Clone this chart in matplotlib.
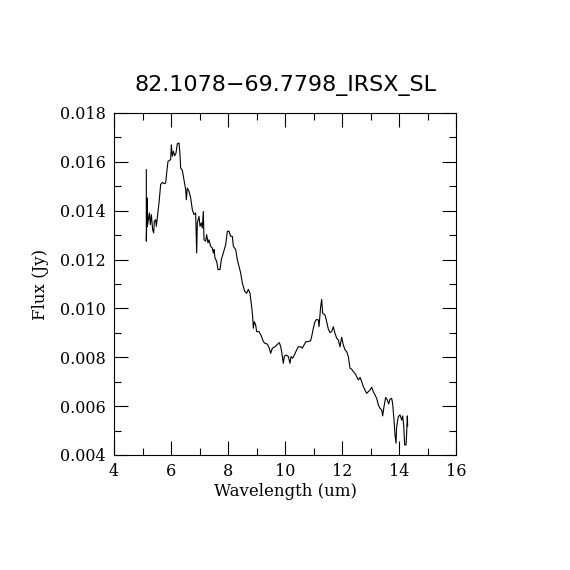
import matplotlib
matplotlib.use('Agg')
import matplotlib.pyplot as plt
from matplotlib.ticker import MultipleLocator

# IRS SL spectrum
wavelength = [5.134, 5.134, 5.170, 5.170, 5.205, 5.240, 5.275, 5.310, 5.356, 5.392,
              5.415, 5.462, 5.485, 5.532, 5.579, 5.637, 5.696, 5.754, 5.813, 5.848,
              5.895, 5.988, 6.012, 6.047, 6.082, 6.128, 6.175, 6.222, 6.281, 6.316,
              6.339, 6.398, 6.456, 6.515, 6.538, 6.573, 6.632, 6.690, 6.749, 6.807,
              6.865, 6.901, 6.924, 6.982, 7.018, 7.064, 7.099, 7.134, 7.158, 7.216,
              7.251, 7.298, 7.333, 7.392, 7.450, 7.485, 7.509, 7.544, 7.602, 7.649,
              7.719, 7.766, 7.836, 7.918, 7.977, 8.035, 8.094, 8.152, 8.187, 8.269,
              8.327, 8.386, 8.444, 8.503, 8.585, 8.655, 8.713, 8.772, 8.830, 8.865,
              8.889, 8.924, 8.971, 9.006, 9.088, 9.181, 9.240, 9.298, 9.380, 9.450,
              9.497, 9.556, 9.649, 9.708, 9.801, 9.848, 9.883, 9.941, 9.977, 10.058,
              10.117, 10.175, 10.211, 10.269, 10.327, 10.409, 10.468, 10.550, 10.608, 10.667,
              10.737, 10.819, 10.901, 10.947, 10.994, 11.053, 11.111, 11.170, 11.193, 11.251,
              11.287, 11.322, 11.404, 11.462, 11.520, 11.579, 11.637, 11.696, 11.754, 11.813,
              11.871, 11.930, 11.988, 12.047, 12.105, 12.164, 12.222, 12.281, 12.339, 12.398,
              12.456, 12.515, 12.573, 12.632, 12.690, 12.749, 12.807, 12.865, 12.924, 12.982,
              13.041, 13.099, 13.158, 13.216, 13.275, 13.333, 13.392, 13.427, 13.474, 13.532,
              13.591, 13.637, 13.684, 13.743, 13.778, 13.825, 13.860, 13.895, 13.918, 13.977,
              14.035, 14.094, 14.129, 14.164, 14.199, 14.246, 14.269, 14.292, 14.304]
flux = [0.01568, 0.01275, 0.01452, 0.01336, 0.01363, 0.01391, 0.01343, 0.01384, 0.01322, 0.01309,
        0.01357, 0.01363, 0.01336, 0.01384, 0.01432, 0.01507, 0.01516, 0.01511, 0.01513, 0.01554,
        0.01602, 0.01609, 0.01670, 0.01623, 0.01643, 0.01625, 0.01636, 0.01674, 0.01677, 0.01629,
        0.01575, 0.01565, 0.01527, 0.01486, 0.01445, 0.01493, 0.01479, 0.01452, 0.01404, 0.01384,
        0.01391, 0.01227, 0.01350, 0.01377, 0.01336, 0.01350, 0.01329, 0.01397, 0.01281, 0.01275,
        0.01302, 0.01268, 0.01281, 0.01254, 0.01247, 0.01227, 0.01241, 0.01206, 0.01193, 0.01159,
        0.01159, 0.01200, 0.01227, 0.01261, 0.01316, 0.01316, 0.01295, 0.01295, 0.01254, 0.01241,
        0.01200, 0.01172, 0.01145, 0.01104, 0.01070, 0.01062, 0.01078, 0.01062, 0.01007, 0.00966,
        0.00919, 0.00946, 0.00932, 0.00905, 0.00905, 0.00884, 0.00864, 0.00857, 0.00854, 0.00837,
        0.00816, 0.00837, 0.00843, 0.00850, 0.00860, 0.00843, 0.00823, 0.00775, 0.00805, 0.00809,
        0.00803, 0.00775, 0.00803, 0.00796, 0.00809, 0.00830, 0.00843, 0.00843, 0.00837, 0.00850,
        0.00864, 0.00864, 0.00868, 0.00891, 0.00919, 0.00946, 0.00955, 0.00953, 0.00925, 0.01007,
        0.01037, 0.00980, 0.00973, 0.00946, 0.00915, 0.00901, 0.00905, 0.00925, 0.00898, 0.00878,
        0.00871, 0.00843, 0.00882, 0.00850, 0.00830, 0.00823, 0.00803, 0.00755, 0.00751, 0.00741,
        0.00734, 0.00721, 0.00707, 0.00718, 0.00700, 0.00680, 0.00666, 0.00652, 0.00659, 0.00666,
        0.00677, 0.00659, 0.00646, 0.00632, 0.00605, 0.00591, 0.00584, 0.00560, 0.00598, 0.00636,
        0.00625, 0.00609, 0.00628, 0.00632, 0.00609, 0.00543, 0.00482, 0.00448, 0.00516, 0.00557,
        0.00564, 0.00543, 0.00560, 0.00523, 0.00441, 0.00441, 0.00489, 0.00560, 0.00519]

title = '82.1078\u221269.7798_IRSX_SL'

fig = plt.figure(figsize=(5.7, 5.7), dpi=100)
ax = fig.add_axes([0.2, 0.2018, 0.6, 0.6])
ax.plot(wavelength, flux, color='black', lw=0.8)

ax.set_xlim(4, 16)
ax.set_ylim(0.004, 0.018)
ax.xaxis.set_major_locator(MultipleLocator(2))
ax.xaxis.set_minor_locator(MultipleLocator(1))
ax.yaxis.set_major_locator(MultipleLocator(0.002))
ax.yaxis.set_minor_locator(MultipleLocator(0.001))
ax.yaxis.set_major_formatter(plt.FormatStrFormatter('%.3f'))
ax.tick_params(which='both', direction='in', top=True, right=True, width=0.8)
ax.tick_params(which='major', length=10, pad=6)
ax.tick_params(which='minor', length=5)
for lab in ax.get_xticklabels() + ax.get_yticklabels():
    lab.set_family('DejaVu Serif')
    lab.set_fontsize(11.5)
for s in ax.spines.values():
    s.set_linewidth(0.8)

ax.set_xlabel('Wavelength (um)', family='DejaVu Serif', fontsize=12, labelpad=2)
ax.set_ylabel('Flux (Jy)', family='DejaVu Serif', fontsize=12, labelpad=8)
ax.set_title(title, family='DejaVu Sans', fontsize=16, pad=16)

fig.savefig('out.png', dpi=100)
